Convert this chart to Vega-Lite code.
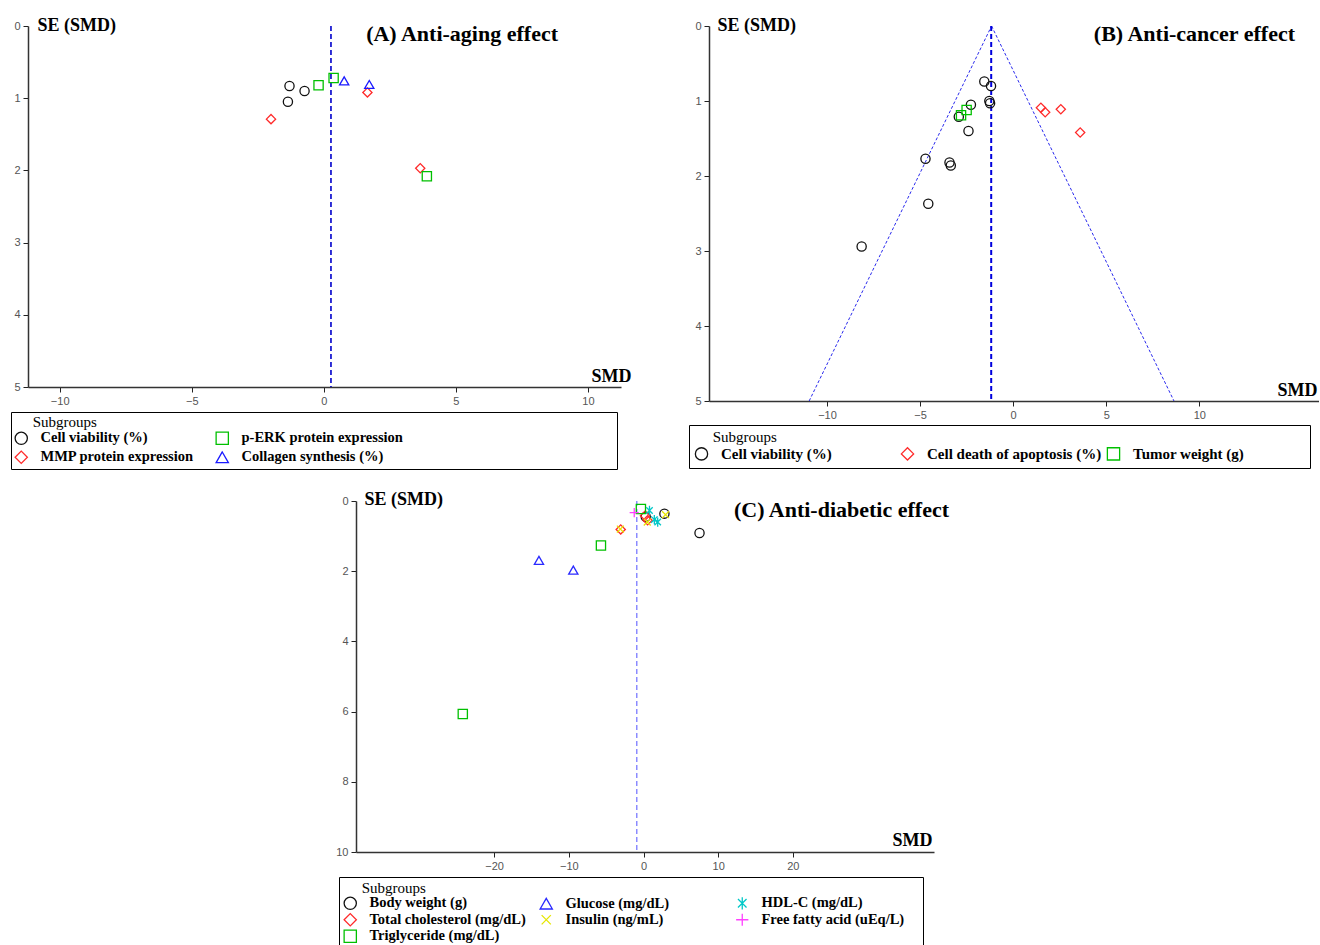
{
  "$schema": "https://vega.github.io/schema/vega-lite/v6.json",
  "background": "white",
  "padding": {"left": 10, "top": 16, "right": 0, "bottom": 0},
  "spacing": 20,
  "resolve": {"scale": {"color": "independent", "shape": "independent"}, "legend": {"color": "independent", "shape": "independent"}},
  "config": {
    "view": {"stroke": null},
    "axis": {"grid": false, "domainColor": "#333", "domainWidth": 1.5, "tickColor": "#222", "tickSize": 5, "labelColor": "#555", "labelFont": "Liberation Sans", "labelFontSize": 11, "labelPadding": 3, "format": "d", "titleFont": "Liberation Serif", "titleFontSize": 18, "titleFontWeight": "bold", "titleColor": "#000", "titleAngle": 0, "titleBaseline": "middle"},
    "legend": {"orient": "none", "strokeColor": "#000", "titleFont": "Liberation Serif", "titleFontSize": 15, "titleFontWeight": "normal", "titleColor": "#000", "labelFont": "Liberation Serif", "labelFontWeight": "bold", "labelFontSize": 14.5, "labelColor": "#000", "labelLimit": 1000, "symbolSize": 150, "symbolStrokeWidth": 1.3, "labelOffset": 12},
    "title": {"font": "Liberation Serif", "fontSize": 22, "fontWeight": "bold", "color": "#000", "anchor": "end", "frame": "group", "offset": 0, "baseline": "middle"}
  },
  "datasets": {
    "aging": [
      {"group": "Cell viability (%)", "smd": -1.3, "se": 0.83},
      {"group": "Cell viability (%)", "smd": -0.73, "se": 0.9},
      {"group": "Cell viability (%)", "smd": -1.36, "se": 1.05},
      {"group": "MMP protein expression", "smd": -2.0, "se": 1.29},
      {"group": "MMP protein expression", "smd": 1.65, "se": 0.92},
      {"group": "MMP protein expression", "smd": 3.65, "se": 1.97},
      {"group": "p-ERK protein expression", "smd": -0.2, "se": 0.82},
      {"group": "p-ERK protein expression", "smd": 0.37, "se": 0.72},
      {"group": "p-ERK protein expression", "smd": 3.9, "se": 2.08},
      {"group": "Collagen synthesis (%)", "smd": 0.77, "se": 0.76},
      {"group": "Collagen synthesis (%)", "smd": 1.72, "se": 0.81}
    ],
    "cancer": [
      {"group": "Cell viability (%)", "smd": -1.55, "se": 0.74},
      {"group": "Cell viability (%)", "smd": -1.19, "se": 0.8},
      {"group": "Cell viability (%)", "smd": -1.28, "se": 1.0},
      {"group": "Cell viability (%)", "smd": -1.24, "se": 1.03},
      {"group": "Cell viability (%)", "smd": -2.27, "se": 1.05},
      {"group": "Cell viability (%)", "smd": -2.4, "se": 1.4},
      {"group": "Cell viability (%)", "smd": -2.92, "se": 1.21},
      {"group": "Cell viability (%)", "smd": -4.71, "se": 1.77},
      {"group": "Cell viability (%)", "smd": -3.42, "se": 1.82},
      {"group": "Cell viability (%)", "smd": -3.35, "se": 1.86},
      {"group": "Cell viability (%)", "smd": -4.56, "se": 2.37},
      {"group": "Cell viability (%)", "smd": -8.14, "se": 2.94},
      {"group": "Cell death of apoptosis (%)", "smd": 1.49, "se": 1.09},
      {"group": "Cell death of apoptosis (%)", "smd": 1.72, "se": 1.15},
      {"group": "Cell death of apoptosis (%)", "smd": 2.56, "se": 1.11},
      {"group": "Cell death of apoptosis (%)", "smd": 3.6, "se": 1.42},
      {"group": "Tumor weight (g)", "smd": -2.8, "se": 1.19},
      {"group": "Tumor weight (g)", "smd": -2.5, "se": 1.12}
    ],
    "funnel": [
      {"side": "left", "smd": -10.96, "se": 5},
      {"side": "left", "smd": -1.16, "se": 0},
      {"side": "right", "smd": -1.16, "se": 0},
      {"side": "right", "smd": 8.64, "se": 5}
    ],
    "diabetic": [
      {"group": "Body weight (g)", "smd": 2.8, "se": 0.36},
      {"group": "Body weight (g)", "smd": 7.5, "se": 0.91},
      {"group": "Body weight (g)", "smd": 0.3, "se": 0.45},
      {"group": "Total cholesterol (mg/dL)", "smd": -3.05, "se": 0.81},
      {"group": "Total cholesterol (mg/dL)", "smd": 0.55, "se": 0.55},
      {"group": "Total cholesterol (mg/dL)", "smd": 0.2, "se": 0.42},
      {"group": "Triglyceride (mg/dL)", "smd": -5.7, "se": 1.27},
      {"group": "Triglyceride (mg/dL)", "smd": -24.2, "se": 6.07},
      {"group": "Triglyceride (mg/dL)", "smd": -0.35, "se": 0.23},
      {"group": "Glucose (mg/dL)", "smd": -14.0, "se": 1.69},
      {"group": "Glucose (mg/dL)", "smd": -9.4, "se": 1.97},
      {"group": "Insulin (ng/mL)", "smd": -3.1, "se": 0.8},
      {"group": "Insulin (ng/mL)", "smd": 2.95, "se": 0.39},
      {"group": "Insulin (ng/mL)", "smd": 0.5, "se": 0.6},
      {"group": "Free fatty acid (uEq/L)", "smd": -1.24, "se": 0.33},
      {"group": "HDL-C (mg/dL)", "smd": 0.8, "se": 0.27},
      {"group": "HDL-C (mg/dL)", "smd": 1.45, "se": 0.53},
      {"group": "HDL-C (mg/dL)", "smd": 1.9, "se": 0.6}
    ]
  },
  "vconcat": [
    {
      "spacing": 57,
      "resolve": {"scale": {"color": "independent", "shape": "independent"}, "legend": {"color": "independent", "shape": "independent"}},
      "hconcat": [
        {
          "width": 593,
          "height": 361,
          "title": {"text": "(A) Anti-aging effect", "dx": -63, "dy": 34},
          "layer": [
            {
              "data": {"values": [{"center": 0.27}]},
              "mark": {"type": "rule", "color": "#0000cc", "strokeDash": [5, 3], "strokeWidth": 1.6},
              "encoding": {"x": {"field": "center", "type": "quantitative", "scale": {"domain": [-11.2, 11.25], "nice": false, "zero": false}}}
            },
            {
              "data": {"name": "aging"},
              "mark": {"type": "point", "filled": false, "size": 85, "strokeWidth": 1.3, "opacity": 1},
              "encoding": {
                "x": {"field": "smd", "type": "quantitative", "scale": {"domain": [-11.2, 11.25], "nice": false, "zero": false}, "axis": {"values": [-10, -5, 0, 5, 10], "title": "SMD", "titleX": 603, "titleY": -11, "titleAlign": "right"}},
                "y": {"field": "se", "type": "quantitative", "scale": {"domain": [0, 5], "reverse": true, "nice": false}, "axis": {"values": [0, 1, 2, 3, 4, 5], "title": "SE (SMD)", "titleX": 9, "titleY": -1, "titleAlign": "left"}},
                "shape": {"field": "group", "type": "nominal", "scale": {"domain": ["Cell viability (%)", "MMP protein expression", "p-ERK protein expression", "Collagen synthesis (%)"], "range": ["circle", "diamond", "square", "triangle-up"]}, "legend": {"title": "\u200b\u00a0\u00a0\u00a0\u00a0\u00a0Subgroups", "legendX": -17, "legendY": 386, "columns": 2, "columnPadding": 19, "rowPadding": 1, "padding": 3, "titlePadding": 1, "gridAlign": "each", "labelExpr": "datum.label === 'p-ERK protein expression' ? pad(datum.label, 82, '\u00a0') + '\u200b' : datum.label"}},
                "color": {"field": "group", "type": "nominal", "scale": {"domain": ["Cell viability (%)", "MMP protein expression", "p-ERK protein expression", "Collagen synthesis (%)"], "range": ["#111111", "#ff2a2a", "#00c000", "#1a1aff"]}, "legend": {"title": "\u200b\u00a0\u00a0\u00a0\u00a0\u00a0Subgroups", "legendX": -17, "legendY": 386, "columns": 2, "columnPadding": 19, "rowPadding": 1, "padding": 3, "titlePadding": 1, "gridAlign": "each", "labelExpr": "datum.label === 'p-ERK protein expression' ? pad(datum.label, 82, '\u00a0') + '\u200b' : datum.label"}}
              }
            }
          ]
        },
        {
          "width": 610,
          "height": 375,
          "title": {"text": "(B) Anti-cancer effect", "dx": -24, "dy": 34},
          "layer": [
            {
              "data": {"name": "funnel"},
              "mark": {"type": "line", "color": "#2a2aee", "strokeDash": [3, 2], "strokeWidth": 1},
              "encoding": {
                "x": {"field": "smd", "type": "quantitative", "scale": {"domain": [-16.34, 16.43], "nice": false, "zero": false}},
                "y": {"field": "se", "type": "quantitative", "scale": {"domain": [0, 5], "reverse": true, "nice": false}},
                "detail": {"field": "side"}
              }
            },
            {
              "data": {"values": [{"center": -1.18}]},
              "mark": {"type": "rule", "color": "#0000dd", "strokeDash": [5, 3], "strokeWidth": 2},
              "encoding": {"x": {"field": "center", "type": "quantitative"}}
            },
            {
              "data": {"name": "cancer"},
              "mark": {"type": "point", "filled": false, "size": 85, "strokeWidth": 1.3, "opacity": 1},
              "encoding": {
                "x": {"field": "smd", "type": "quantitative", "axis": {"values": [-10, -5, 0, 5, 10], "title": "SMD", "titleX": 608, "titleY": -11, "titleAlign": "right"}},
                "y": {"field": "se", "type": "quantitative", "axis": {"values": [0, 1, 2, 3, 4, 5], "title": "SE (SMD)", "titleX": 8, "titleY": -1, "titleAlign": "left"}},
                "shape": {"field": "group", "type": "nominal", "scale": {"domain": ["Cell viability (%)", "Cell death of apoptosis (%)", "Tumor weight (g)"], "range": ["circle", "diamond", "square"]}, "legend": {"title": "\u200b\u00a0\u00a0\u00a0\u00a0\u00a0Subgroups", "legendX": -20, "legendY": 399, "columns": 3, "columnPadding": 2, "padding": 5, "titlePadding": 1, "gridAlign": "all", "labelFontSize": 15, "labelExpr": "datum.label === 'Tumor weight (g)' ? pad(datum.label, 32, '\u00a0') + '\u200b' : datum.label"}},
                "color": {"field": "group", "type": "nominal", "scale": {"domain": ["Cell viability (%)", "Cell death of apoptosis (%)", "Tumor weight (g)"], "range": ["#111111", "#ff2a2a", "#00c000"]}, "legend": {"title": "\u200b\u00a0\u00a0\u00a0\u00a0\u00a0Subgroups", "legendX": -20, "legendY": 399, "columns": 3, "columnPadding": 2, "padding": 5, "titlePadding": 1, "gridAlign": "all", "labelFontSize": 15, "labelExpr": "datum.label === 'Tumor weight (g)' ? pad(datum.label, 32, '\u00a0') + '\u200b' : datum.label"}}
              }
            }
          ]
        }
      ]
    },
    {
      "spacing": 10,
      "resolve": {"scale": {"color": "independent", "shape": "independent"}, "legend": {"color": "independent", "shape": "independent"}},
      "hconcat": [
        {"width": 297, "height": 1, "data": {"values": []}, "mark": "point"},
        {
          "width": 578,
          "height": 351,
          "title": {"text": "(C) Anti-diabetic effect", "dx": 15, "dy": 36},
          "layer": [
            {
              "data": {"values": [{"center": -0.9}]},
              "mark": {"type": "rule", "color": "#7a7aff", "strokeDash": [5, 3], "strokeWidth": 1.3},
              "encoding": {"x": {"field": "center", "type": "quantitative", "scale": {"domain": [-38.5, 38.9], "nice": false, "zero": false}}}
            },
            {
              "data": {"name": "diabetic"},
              "mark": {"type": "point", "filled": false, "size": 85, "strokeWidth": 1.3, "opacity": 1},
              "encoding": {
                "x": {"field": "smd", "type": "quantitative", "scale": {"domain": [-38.5, 38.9], "nice": false, "zero": false}, "axis": {"values": [-20, -10, 0, 10, 20], "title": "SMD", "titleX": 576, "titleY": -12, "titleAlign": "right"}},
                "y": {"field": "se", "type": "quantitative", "scale": {"domain": [0, 10], "reverse": true, "nice": false}, "axis": {"values": [0, 2, 4, 6, 8, 10], "title": "SE (SMD)", "titleX": 8, "titleY": -2, "titleAlign": "left"}},
                "shape": {"field": "group", "type": "nominal", "scale": {"domain": ["Body weight (g)", "Total cholesterol (mg/dL)", "Free fatty acid (uEq/L)", "Glucose (mg/dL)", "Insulin (ng/mL)", "Triglyceride (mg/dL)", "HDL-C (mg/dL)"], "range": ["circle", "diamond", "M-1,0L1,0M0,-1L0,1", "triangle-up", "M-0.75,-0.75L0.75,0.75M-0.75,0.75L0.75,-0.75", "square", "M-0.7,-0.7L0.7,0.7M-0.7,0.7L0.7,-0.7M0,-1L0,1"]}, "legend": {"title": "\u200b\u00a0\u00a0\u00a0\u00a0\u00a0Subgroups", "legendX": -17, "legendY": 376, "columns": 3, "columnPadding": 10, "rowPadding": -1.5, "padding": 4, "titlePadding": 0, "gridAlign": "all", "labelExpr": "datum.label === 'Free fatty acid (uEq/L)' ? pad(datum.label, 27, '\u00a0') + '\u200b' : datum.label"}},
                "color": {"field": "group", "type": "nominal", "scale": {"domain": ["Body weight (g)", "Total cholesterol (mg/dL)", "Free fatty acid (uEq/L)", "Glucose (mg/dL)", "Insulin (ng/mL)", "Triglyceride (mg/dL)", "HDL-C (mg/dL)"], "range": ["#111111", "#ff2a2a", "#ff40ff", "#2a2aff", "#e6e600", "#00c000", "#00c8c8"]}, "legend": {"title": "\u200b\u00a0\u00a0\u00a0\u00a0\u00a0Subgroups", "legendX": -17, "legendY": 376, "columns": 3, "columnPadding": 10, "rowPadding": -1.5, "padding": 4, "titlePadding": 0, "gridAlign": "all", "labelExpr": "datum.label === 'Free fatty acid (uEq/L)' ? pad(datum.label, 27, '\u00a0') + '\u200b' : datum.label"}}
              }
            }
          ]
        }
      ]
    }
  ]
}
